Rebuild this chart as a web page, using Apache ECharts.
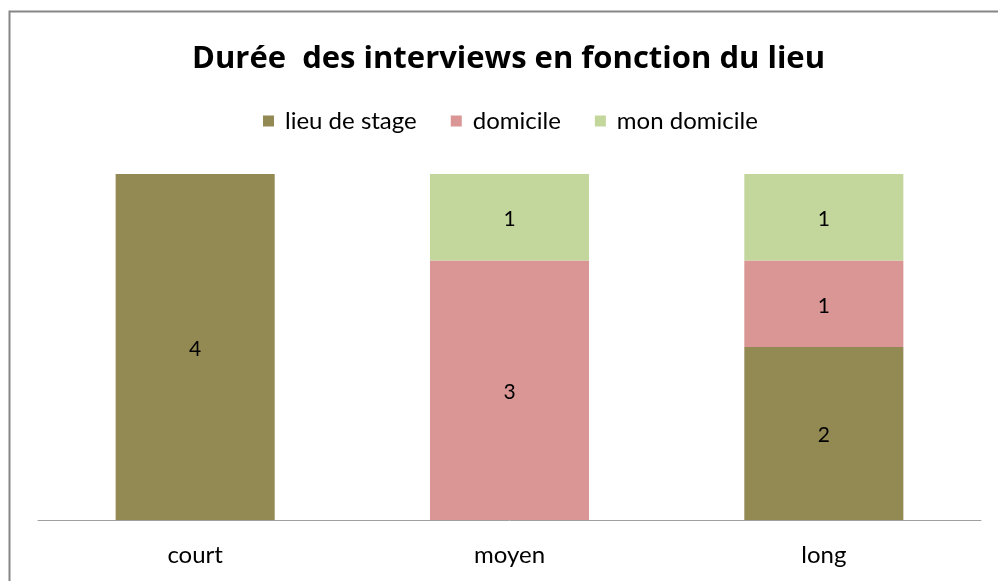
<!DOCTYPE html>
<html><head><meta charset="utf-8">
<script src="https://cdn.jsdelivr.net/npm/echarts@6/dist/echarts.min.js"></script>
<style>html,body{margin:0;padding:0;background:#fff}#c{width:998px;height:581px}</style>
</head><body><div id="c"></div>
<script>
const categories = ['court', 'moyen', 'long'];
const seriesNames = ['lieu de stage', 'domicile', 'mon domicile'];
const lieuDeStage = [4, null, 2];
const domicile = [null, 3, 1];
const monDomicile = [null, 1, 1];
const colors = ['#938953', '#D99694', '#C3D69B'];

const chart = echarts.init(document.getElementById('c'));
const mk = (name, data, color) => ({
  name, type: 'bar', stack: 'a', data, barWidth: '50.6%',
  itemStyle: { color },
  label: { show: true, position: 'inside', color: '#000', fontSize: 21, fontFamily: 'Lato', offset: [0, 2] }
});
chart.setOption({
  animation: false,
  color: colors,
  title: {
    text: 'Durée  des interviews en fonction du lieu',
    left: 187, top: 39,
    textStyle: { fontFamily: 'Open Sans', fontWeight: 'bold', fontSize: 31, color: '#000' }
  },
  legend: {
    top: 104, left: 258, itemWidth: 11, itemHeight: 11, itemGap: 34,
    icon: 'rect',
    textStyle: { fontFamily: 'Lato', fontSize: 24, color: '#000', padding: [0, 0, 0, 6] }
  },
  grid: { left: 38, right: 17, top: 174, bottom: 61 },
  xAxis: {
    type: 'category', data: categories,
    axisLine: { lineStyle: { color: '#a0a0a0', width: 1 } },
    axisTick: { show: false },
    axisLabel: { color: '#000', fontSize: 24, fontFamily: 'Lato', margin: 23 }
  },
  yAxis: { type: 'value', min: 0, max: 4, show: false, splitLine: { show: false } },
  graphic: [{
    type: 'rect', shape: { x: 9.5, y: 11.5, width: 1000, height: 600 },
    style: { fill: 'none', stroke: '#868686', lineWidth: 2 }, silent: true
  }],
  series: [
    mk(seriesNames[0], lieuDeStage, colors[0]),
    mk(seriesNames[1], domicile, colors[1]),
    mk(seriesNames[2], monDomicile, colors[2])
  ]
});
</script></body></html>
